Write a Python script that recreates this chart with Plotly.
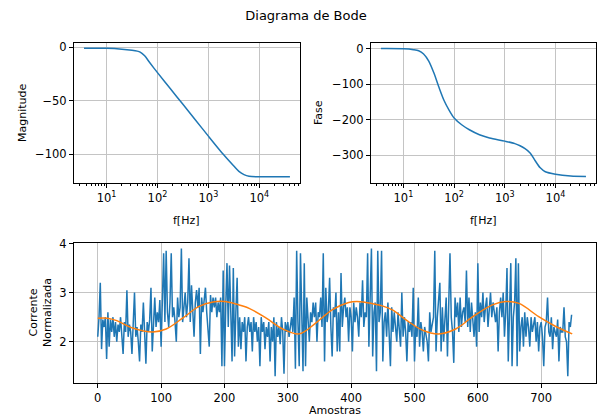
import numpy as np
import plotly.graph_objects as go

W, H = 599, 418

# ---- Bode: magnitude ----
freq_hz = [3.6, 10, 20, 31.6, 40, 45.7, 56, 70.8, 100, 178, 316, 562, 1000, 2000, 3160, 3980, 5010, 6310,
           10000, 40000]
magnitude_db = [-0.8, -1.0, -1.8, -2.8, -3.6, -4.5, -8.0, -14.5, -23.7, -38.5, -53.3, -68.1, -83, -100.5,
                -111, -116, -119, -120.5, -121, -121]

# ---- Bode: phase ----
phase_freq_hz = [3.6, 10, 15.8, 20, 25, 31.6, 39.8, 50, 63, 79, 100, 141, 200, 316, 500, 1000, 1580, 2000,
                 2510, 3160, 3980, 5010, 6310, 10000, 20000, 40000]
phase_deg = [0, -0.5, -3, -6, -15, -35, -68, -108, -145, -172, -195, -214, -228, -242, -251, -260, -267, -273,
             -281, -293, -315, -335, -346, -353, -358, -359]

# ---- Normalised current (one reading every 2 samples) ----
sample_step = 2
current = [
    2.1, 2.5, 3.2, 1.85, 2.45, 2.3, 2.5, 1.65, 2.6, 1.9,
    2.45, 2.2, 2.5, 2.1, 2.4, 2.0, 2.35, 2.2, 2.5, 2.15,
    1.75, 2.4, 2.2, 3.05, 2.1, 2.35, 2.2, 1.75, 2.4, 3.0,
    2.1, 2.3, 2.0, 1.6, 2.35, 2.2, 2.8, 2.1, 1.55, 2.4,
    2.2, 2.45, 3.1, 1.8, 2.5, 2.9, 2.3, 2.6, 2.4, 2.85,
    1.9, 2.7, 3.8, 2.4, 3.85, 2.6, 2.3, 2.8, 3.8, 2.5,
    2.7, 2.4, 2.0, 2.9, 2.5, 2.7, 3.9, 2.4, 2.7, 3.0,
    2.5, 2.8, 3.7, 2.4, 3.15, 2.6, 2.1, 2.8, 3.05, 2.7,
    3.1, 1.75, 2.9, 2.6, 2.8, 3.1, 2.6, 2.2, 1.9, 2.95,
    2.6, 2.9, 2.7, 2.9, 2.5, 2.8, 2.6, 2.9, 1.5, 3.45,
    1.5, 2.7, 3.6, 2.3, 3.55, 2.6, 1.6, 3.5, 1.7, 2.6,
    3.3, 1.9, 2.5, 1.85, 2.4, 2.2, 2.5, 1.6, 2.3, 2.5,
    2.2, 2.4, 1.8, 2.5, 2.2, 2.4, 2.0, 2.3, 1.5, 2.5,
    2.2, 2.4, 1.85, 2.3, 2.1, 2.4, 1.6, 2.3, 2.0, 2.5,
    1.3, 2.4, 2.1, 2.3, 1.95, 2.5, 2.2, 1.35, 2.4, 2.2,
    2.4, 2.1, 2.3, 2.5, 2.2, 2.9, 1.45, 3.85, 2.4, 1.5,
    3.8, 2.3, 1.4, 3.6, 1.5, 2.9, 2.4, 2.0, 2.6, 2.4,
    2.8, 2.5, 2.8, 2.0, 2.6, 2.5, 2.9, 2.3, 3.8, 1.6,
    3.1, 2.4, 2.6, 3.3, 2.3, 1.7, 2.7, 2.5, 3.0, 1.8,
    2.6, 1.8, 3.4, 2.3, 2.7, 2.9, 2.5, 2.7, 2.0, 2.7,
    2.5, 1.8, 2.8, 2.4, 2.7, 2.5, 2.1, 2.8, 2.5, 3.25,
    2.3, 2.6, 2.5, 3.8, 1.9, 2.9, 3.9, 1.7, 2.6, 2.8,
    1.4, 3.85, 2.4, 2.6, 3.85, 1.6, 2.4, 2.6, 2.1, 2.8,
    2.3, 1.5, 2.7, 2.2, 2.6, 2.3, 2.0, 2.6, 2.2, 1.9,
    3.0, 2.1, 2.5, 2.2, 1.6, 2.4, 2.2, 2.4, 2.1, 3.1,
    1.6, 2.3, 2.1, 2.9, 1.9, 2.4, 2.2, 1.8, 2.3, 2.1,
    2.0, 1.6, 2.6, 2.2, 2.4, 2.5, 3.85, 1.8, 2.5, 2.9,
    3.2, 1.8, 2.7, 2.0, 2.6, 2.9, 1.7, 2.6, 3.8, 2.5,
    2.2, 1.57, 2.9, 2.5, 2.8, 2.2, 2.9, 2.3, 2.6, 2.7,
    2.4, 3.45, 2.3, 2.9, 2.2, 2.8, 2.4, 2.1, 2.6, 1.9,
    3.6, 2.2, 2.8, 2.5, 3.0, 2.4, 2.7, 2.9, 2.3, 2.6,
    3.0, 2.5, 2.8, 2.6, 2.4, 2.7, 1.8, 2.6, 2.9, 2.5,
    3.0, 2.1, 2.6, 3.5, 1.6, 2.6, 3.6, 1.5, 2.5, 2.8,
    3.7, 1.5, 3.6, 1.8, 2.3, 2.5, 1.9, 2.6, 2.1, 2.5,
    2.3, 1.9, 2.5, 2.2, 2.4, 2.5, 2.0, 2.4, 1.8, 2.3,
    2.4, 2.1, 1.5, 2.3, 2.4, 2.9, 2.2, 2.1, 2.5, 1.85,
    2.3, 2.2, 2.1, 2.45, 1.6, 2.3, 2.2, 2.2, 2.7, 2.1,
    2.0, 1.3, 2.4, 2.3, 2.55,
]
samples = np.arange(len(current)) * sample_step

# ---- Smooth trend ----
trend_samples = [0, 15, 30, 55, 87, 108, 134, 160, 182, 200, 218, 239, 266, 292, 318, 344, 370, 396, 409, 423,
                 449, 465, 486, 512, 538, 565, 591, 623, 644, 665, 696, 723, 749]
trend_values = [2.48, 2.48, 2.43, 2.28, 2.2, 2.26, 2.48, 2.72, 2.81, 2.82, 2.77, 2.68, 2.48, 2.26, 2.16, 2.38,
                2.65, 2.80, 2.82, 2.80, 2.73, 2.65, 2.45, 2.24, 2.16, 2.26, 2.5, 2.75, 2.82, 2.78, 2.51, 2.31, 2.16]

log_ticks = [10, 100, 1000, 10000]
log_ticktext = ["10<sup>1</sup>", "10<sup>2</sup>", "10<sup>3</sup>", "10<sup>4</sup>"]
minor_vals = [m * 10 ** k for k in range(0, 5) for m in range(2, 10)]

BLUE = "#1f77b4"
ORANGE = "#ff7f0e"
FONT = "DejaVu Sans"

fig = go.Figure()
fig.add_trace(go.Scatter(x=freq_hz, y=magnitude_db, mode="lines",
                         line=dict(color=BLUE, width=1.5, shape="spline", smoothing=0.8),
                         xaxis="x", yaxis="y", showlegend=False))
fig.add_trace(go.Scatter(x=phase_freq_hz, y=phase_deg, mode="lines",
                         line=dict(color=BLUE, width=1.5, shape="spline", smoothing=0.8),
                         xaxis="x2", yaxis="y2", showlegend=False))
fig.add_trace(go.Scatter(x=samples, y=current, mode="lines",
                         line=dict(color=BLUE, width=1.5),
                         xaxis="x3", yaxis="y3", showlegend=False))
fig.add_trace(go.Scatter(x=trend_samples, y=trend_values, mode="lines",
                         line=dict(color=ORANGE, width=1.5, shape="spline", smoothing=1.0),
                         xaxis="x3", yaxis="y3", showlegend=False))

common = dict(showline=True, mirror=True, linecolor="black", linewidth=1,
              ticks="outside", ticklen=4, tickcolor="black", tickwidth=1,
              showgrid=True, gridcolor="#c4c4c4", gridwidth=1, zeroline=False,
              tickfont=dict(family=FONT, size=11.5, color="black"), automargin=False)

minor = dict(tickmode="array", tickvals=minor_vals, ticks="outside", ticklen=2,
             tickcolor="black", tickwidth=1, showgrid=False)

top_dom = [1 - 183 / H, 1 - 43 / H]
bot_dom = [1 - 383 / H, 1 - 243 / H]

fig.update_layout(
    width=W, height=418, autosize=False,
    margin=dict(l=0, r=0, t=0, b=0, pad=0),
    paper_bgcolor="white", plot_bgcolor="white",
    font=dict(family=FONT, size=11.5, color="black"),
    title=dict(text="Diagrama de Bode", x=306 / W, y=1 - 15 / H, xanchor="center", yanchor="middle",
               font=dict(family=FONT, size=13, color="black")),
    xaxis=dict(domain=[74 / W, 300 / W], anchor="y", type="log", range=[0.36, 4.80],
               tickmode="array", tickvals=log_ticks, ticktext=log_ticktext, minor=minor, **common),
    yaxis=dict(domain=top_dom, anchor="x", range=[-126.8, 4.0], tickmode="array",
               tickvals=[0, -50, -100], **common),
    xaxis2=dict(domain=[371 / W, 596 / W], anchor="y2", type="log", range=[0.36, 4.80],
                tickmode="array", tickvals=log_ticks, ticktext=log_ticktext, minor=minor, **common),
    yaxis2=dict(domain=top_dom, anchor="x2", range=[-377.6, 15.7], tickmode="array",
                tickvals=[0, -100, -200, -300], **common),
    xaxis3=dict(domain=[74 / W, 596 / W], anchor="y3", range=[-37.5, 786.5], tickmode="array",
                tickvals=[0, 100, 200, 300, 400, 500, 600, 700], **common),
    yaxis3=dict(domain=bot_dom, anchor="x3", range=[1.16, 4.01], tickmode="array",
                tickvals=[2, 3, 4], **common),
)

lab = dict(family=FONT, size=11, color="black")
annots = [
    dict(text="Magnitude", x=22 / W, y=1 - 113 / H, textangle=-90),
    dict(text="f[Hz]", x=187 / W, y=1 - 220 / H, textangle=0),
    dict(text="Fase", x=318 / W, y=1 - 113 / H, textangle=-90),
    dict(text="f[Hz]", x=483.5 / W, y=1 - 220 / H, textangle=0),
    dict(text="Corrente<br>Normalizada", x=40 / W, y=1 - 313 / H, textangle=-90),
    dict(text="Amostras", x=335 / W, y=1 - 410 / H, textangle=0),
]
for a in annots:
    fig.add_annotation(xref="paper", yref="paper", showarrow=False, xanchor="center", yanchor="middle",
                       font=lab, **a)

fig.write_html("out.html")
